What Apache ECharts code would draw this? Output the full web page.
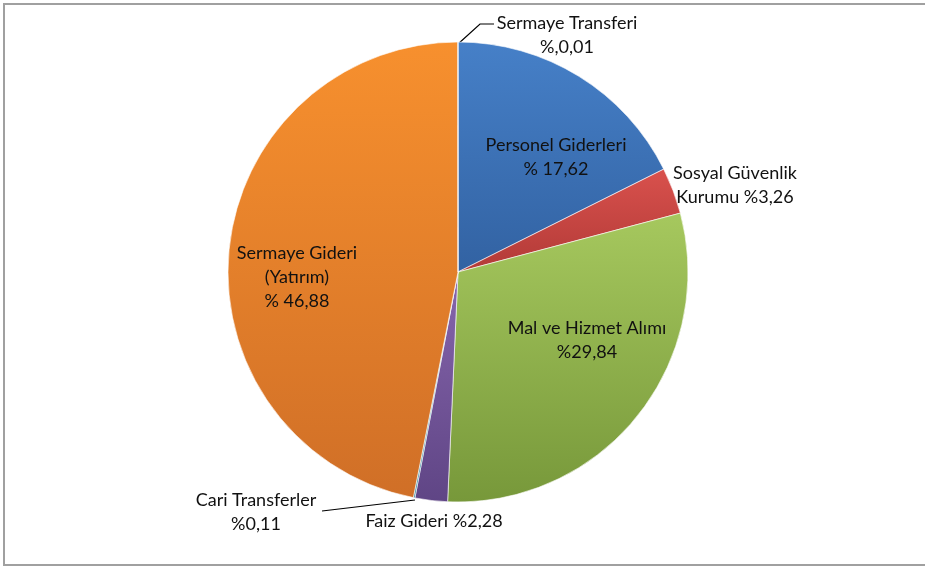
<!DOCTYPE html>
<html><head><meta charset="utf-8">
<script src="https://cdn.jsdelivr.net/npm/echarts@6/dist/echarts.min.js"></script>
<style>html,body{margin:0;padding:0;background:#fff}#c{width:925px;height:568px}</style>
</head><body><div id="c"></div>
<script>
const categories = ["Personel Giderleri", "Sosyal Güvenlik Kurumu", "Mal ve Hizmet Alımı", "Faiz Gideri", "Cari Transferler", "Sermaye Gideri (Yatırım)", "Sermaye Transferi"];
const values = [17.62, 3.26, 29.84, 2.28, 0.11, 46.88, 0.01];
const labelTexts = ["Personel Giderleri\n% 17,62", "Sosyal Güvenlik\nKurumu %3,26", "Mal ve Hizmet Alımı\n%29,84", "Faiz Gideri %2,28", "Cari Transferler\n%0,11", "Sermaye Gideri\n(Yatırım)\n% 46,88", "Sermaye Transferi\n%,0,01"];
const colorsTop = ["#4680c8", "#d9514d", "#a6c85e", "#8766ad", "#4bacc6", "#f7902e", "#2c4d75"];
const colorsBot = ["#3262a2", "#b23a37", "#77983a", "#5f4585", "#31849b", "#d06f27", "#1f3a5c"];

const labelPos = [
  {x: 556, y: 157},
  {x: 735, y: 185},
  {x: 587, y: 340},
  {x: 434, y: 521},
  {x: 256, y: 512},
  {x: 297, y: 277},
  {x: 567, y: 35}
];
const lines = {
  6: [[458, 44], [480, 24], [494, 24]],
  4: [[415, 500], [322, 511], [322, 511]]
};

const chart = echarts.init(document.getElementById('c'));
chart.setOption({
  animation: false,
  textStyle: {fontFamily: 'Lato'},
  graphic: [{
    type: 'rect', shape: {x: 4, y: 4, width: 930, height: 561},
    style: {fill: 'none', stroke: '#a0a0a0', lineWidth: 2}, silent: true
  }],
  series: [{
    type: 'pie',
    center: [458, 272],
    radius: 230,
    startAngle: 90,
    clockwise: true,
    avoidLabelOverlap: false,
    itemStyle: {borderColor: 'rgba(255,255,255,0.6)', borderWidth: 1},
    label: {
      show: true, position: 'outside', color: '#111', fontSize: 18, lineHeight: 24,
      fontFamily: 'Lato', formatter: p => labelTexts[p.dataIndex]
    },
    labelLine: {show: true, lineStyle: {color: '#000', width: 1.2}},
    labelLayout: function (p) {
      const lp = labelPos[p.dataIndex];
      const r = {x: lp.x, y: lp.y, align: 'center', verticalAlign: 'middle'};
      if (lines[p.dataIndex]) r.labelLinePoints = lines[p.dataIndex];
      return r;
    },
    data: categories.map((c, i) => ({
      name: c, value: values[i],
      labelLine: {show: i === 4 || i === 6},
      itemStyle: {color: {type: 'linear', x: 0, y: 0, x2: 0, y2: 1,
        colorStops: [{offset: 0, color: colorsTop[i]}, {offset: 1, color: colorsBot[i]}]}}
    }))
  }]
});
</script></body></html>
